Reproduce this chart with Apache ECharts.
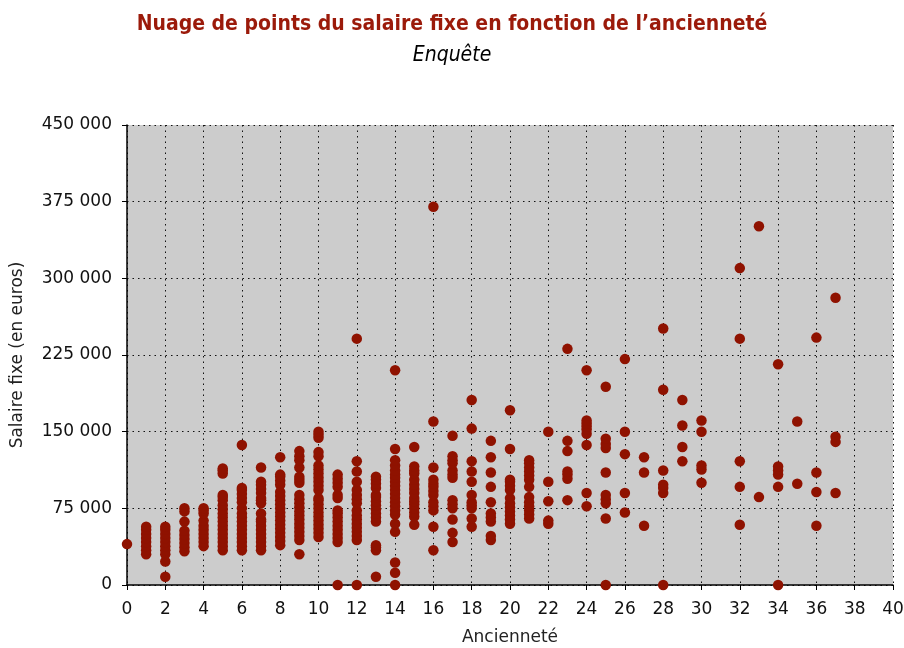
<!DOCTYPE html>
<html>
<head>
<meta charset="utf-8">
<script src="https://cdn.jsdelivr.net/npm/echarts@6/dist/echarts.min.js"></script>
<style>
  html, body { margin: 0; padding: 0; background: #fff; }
  #chart { width: 904px; height: 648px; }
</style>
</head>
<body>
<div id="chart"></div>
<script>
// ancienneté (années)
const annees = [0, 1, 2, 3, 4, 5, 6, 7, 8, 9, 10, 11, 12, 13, 14, 15, 16, 17, 18, 19,
  20, 21, 22, 23, 24, 25, 26, 27, 28, 29, 30, 32, 33, 34, 35, 36, 37]

// salaires fixes pour chaque ancienneté, en milliers d'euros
const salairesParAnnee = [
  [40],
  [30, 34, 38, 42, 46, 50, 54, 57],
  [8, 23, 30, 34, 38, 42, 46, 50, 54, 57],
  [33, 37, 41, 45, 49, 53, 62, 72, 75],
  [38, 42, 46, 50, 54, 58, 63, 70, 73, 75],
  [34, 38, 42, 46, 50, 54, 58, 62, 66, 70, 74, 78, 83, 86, 88, 109, 112, 114],
  [34, 38, 42, 46, 50, 54, 58, 62, 66, 70, 75, 81, 85, 89, 93, 95, 137],
  [34, 38, 42, 46, 50, 54, 58, 62, 64, 70, 80, 83, 85, 90, 94, 98, 101, 115],
  [39, 43, 47, 51, 55, 59, 63, 67, 71, 75, 79, 83, 87, 91, 98, 102, 106, 108, 125],
  [30, 44, 48, 52, 56, 60, 64, 68, 72, 76, 80, 84, 88, 100, 103, 106, 115, 122, 126, 131],
  [47, 51, 55, 59, 63, 67, 71, 75, 79, 83, 85, 93, 97, 101, 105, 109, 113, 117, 126, 130, 144, 147, 150],
  [0, 42, 46, 50, 54, 58, 62, 66, 70, 73, 85, 88, 96, 100, 104, 108],
  [0, 44, 48, 52, 56, 60, 64, 68, 73, 80, 84, 88, 93, 101, 111, 121, 241],
  [8, 34, 37, 39, 62, 66, 70, 74, 78, 82, 86, 88, 95, 99, 103, 106],
  [0, 12, 22, 52, 60, 69, 73, 77, 81, 85, 89, 93, 97, 101, 105, 108, 112, 117, 122, 133, 210],
  [59, 67, 71, 75, 79, 82, 85, 90, 94, 98, 103, 109, 112, 116, 135],
  [34, 57, 73, 77, 81, 88, 92, 96, 99, 103, 115, 160, 370],
  [42, 51, 64, 75, 79, 83, 105, 108, 112, 119, 122, 126, 146],
  [57, 65, 75, 78, 81, 88, 101, 111, 121, 153, 181],
  [44, 48, 62, 66, 70, 81, 96, 110, 125, 141],
  [60, 64, 68, 72, 76, 80, 85, 93, 97, 101, 103, 133, 171],
  [65, 69, 73, 77, 81, 86, 96, 103, 107, 111, 115, 119, 122],
  [60, 63, 82, 101, 150],
  [83, 104, 108, 111, 131, 141, 231],
  [77, 90, 137, 148, 152, 155, 158, 161, 210],
  [0, 65, 80, 84, 88, 110, 134, 138, 143, 194],
  [71, 90, 128, 150, 221],
  [58, 110, 125],
  [0, 90, 95, 98, 112, 191, 251],
  [121, 135, 156, 181],
  [100, 113, 117, 150, 161],
  [59, 96, 121, 241, 310],
  [86, 351],
  [0, 96, 108, 112, 116, 216],
  [99, 160],
  [58, 91, 110, 242],
  [90, 140, 145, 281]
]

const titre = 'Nuage de points du salaire fixe en fonction de l\u2019ancienneté'
const sousTitre = 'Enquête'

// mise en forme des milliers avec une espace : 450000 -> 450 000
function formatMilliers(v) {
  return String(v).replace(/\B(?=(\d{3})+(?!\d))/g, ' ')
}

const points = []
annees.forEach((a, i) => {
  salairesParAnnee[i].forEach((s) => {
    points.push([a, s * 1000])
  })
})

const chart = echarts.init(document.getElementById('chart'))

const option = {
  backgroundColor: '#fff',
  animation: false,
  title: {
    text: titre,
    subtext: sousTitre,
    left: 'center',
    top: 9,
    itemGap: 10,
    textStyle: {
      fontFamily: '"Liberation Sans Narrow", "DejaVu Sans Condensed", sans-serif',
      fontWeight: 'bold',
      fontSize: 21,
      color: '#9B1A0A'
    },
    subtextStyle: {
      fontFamily: '"Liberation Sans Narrow", "DejaVu Sans Condensed", sans-serif',
      fontStyle: 'italic',
      fontSize: 21,
      color: '#000'
    }
  },
  grid: {
    left: 127,
    right: 11,
    top: 125,
    bottom: 63,
    outerBoundsMode: 'none',
    containLabel: false,
    show: true,
    backgroundColor: '#CCCCCC',
    borderWidth: 0
  },
  xAxis: {
    type: 'value',
    min: 0,
    max: 40,
    interval: 2,
    name: 'Ancienneté',
    nameLocation: 'middle',
    nameGap: 44,
    nameTextStyle: { fontFamily: 'DejaVu Sans', fontSize: 17, color: '#222' },
    axisLine: { show: true, onZero: false, lineStyle: { color: '#000', width: 1.5 } },
    axisTick: { show: true, length: 5, lineStyle: { color: '#000' } },
    axisLabel: { fontFamily: 'DejaVu Sans', fontSize: 17, color: '#111', margin: 16 },
    splitLine: { show: true, lineStyle: { color: '#111', type: [1.5, 4], width: 1 } }
  },
  yAxis: {
    type: 'value',
    min: 0,
    max: 450000,
    interval: 75000,
    name: 'Salaire fixe (en euros)',
    nameLocation: 'middle',
    nameGap: 101,
    nameTextStyle: { fontFamily: 'DejaVu Sans', fontSize: 17, color: '#222' },
    axisLine: { show: true, lineStyle: { color: '#000', width: 1.5 } },
    axisTick: { show: true, length: 5, lineStyle: { color: '#000' } },
    axisLabel: {
      fontFamily: 'DejaVu Sans',
      fontSize: 17,
      color: '#111',
      margin: 15,
      formatter: formatMilliers
    },
    splitLine: { show: true, lineStyle: { color: '#111', type: [1.5, 4], width: 1 } }
  },
  series: [
    {
      type: 'scatter',
      data: points,
      symbol: 'circle',
      symbolSize: 10.5,
      itemStyle: { color: '#8F1200', opacity: 1 }
    }
  ]
}

chart.setOption(option)
</script>
</body>
</html>
